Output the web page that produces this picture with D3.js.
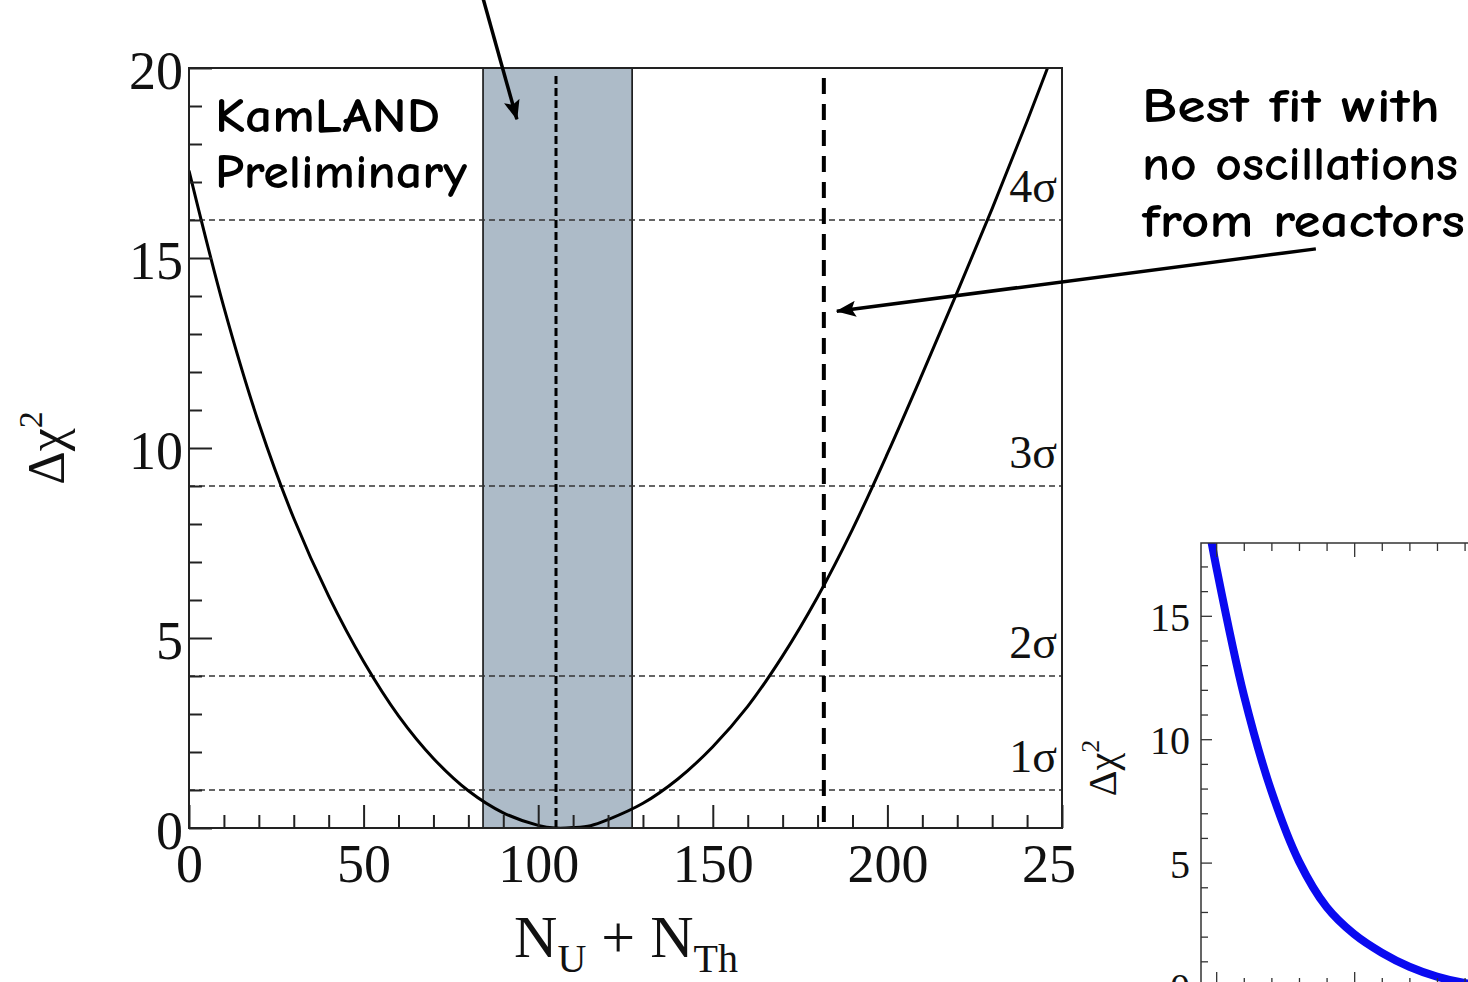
<!DOCTYPE html>
<html>
<head>
<meta charset="utf-8">
<script src="https://cdn.jsdelivr.net/npm/d3@7"></script>
<style>
  html, body { margin: 0; padding: 0; background: #fff; }
  svg { display: block; }
</style>
</head>
<body>
<svg id="chart" width="1468" height="982"></svg>
<script>
// Δχ² profile as a function of the geoneutrino event count N_U + N_Th
const nEvents   = [0, 10, 20, 30, 40, 50, 60, 70, 80, 90, 100, 105, 110, 115, 120, 130, 140, 150, 160, 170, 180, 190, 200, 210, 220, 230, 240, 250];
const deltaChi2 = [17.3, 13.7, 10.65, 8.15, 6.1, 4.38, 2.95, 1.83, 0.98, 0.40, 0.07, 0.0, 0.01, 0.06, 0.22, 0.65, 1.29, 2.14, 3.2, 4.53, 6.08, 7.86, 9.85, 11.95, 14.1, 16.3, 18.6, 21.0];

// confidence levels drawn as horizontal guides
const sigmaLevels = [1, 4, 9, 16];
const sigmaLabels = ["1σ", "2σ", "3σ", "4σ"];

// 1σ range of the fit, its central value, and the no-oscillation fit
const fitBand   = [84.2, 126.9];
const bestFit   = 105.1;
const noOscFit  = 181.8;

// axis ticks
const xMajorTicks  = [0, 50, 100, 150, 200, 250];
const xTickLabels  = ["0", "50", "100", "150", "200", "250"];
const xMinorTicks  = [10, 20, 30, 40, 60, 70, 80, 90, 110, 120, 130, 140, 160, 170, 180, 190, 210, 220, 230, 240];
const yMajorTicks  = [0, 5, 10, 15, 20];
const yTickLabels  = ["0", "5", "10", "15", "20"];
const yMinorTicks  = [1, 2, 3, 4, 6, 7, 8, 9, 11, 12, 13, 14, 16, 17, 18, 19];

// second panel (partially shown): Δχ² curve
const insetX    = [-0.3, 0, 1, 2, 3, 4, 5, 6, 7, 8, 9, 10];
const insetChi2 = [18.8, 17.0, 11.8, 7.9, 5.05, 3.2, 2.1, 1.35, 0.78, 0.38, 0.12, 0.02];
const insetYMajor  = [0, 5, 10, 15];
const insetYLabels = ["0", "5", "10", "15"];
const insetYMinor  = [1, 2, 3, 4, 6, 7, 8, 9, 11, 12, 13, 14, 16, 17];
const insetXMajor  = [0, 5, 10];
const insetXMinor  = [1, 2, 3, 4, 6, 7, 8, 9];

const SERIF = "'Liberation Serif', 'Times New Roman', serif";
const HAND  = "'Comic Sans MS', 'Comic Neue', Lato, sans-serif";

const svg = d3.select("#chart");

const plot = { left: 189, top: 68, right: 1062, bottom: 828 };
const x = d3.scaleLinear().domain([0, 250]).range([plot.left, plot.right]);
const y = d3.scaleLinear().domain([0, 20]).range([plot.bottom, plot.top]);

const defs = svg.append("defs");
defs.append("clipPath").attr("id", "plotClip")
  .append("rect")
  .attr("x", plot.left).attr("y", plot.top)
  .attr("width", plot.right - plot.left).attr("height", plot.bottom - plot.top);

defs.append("marker")
  .attr("id", "arrowHead")
  .attr("markerUnits", "userSpaceOnUse")
  .attr("viewBox", "0 0 20 16")
  .attr("markerWidth", 20).attr("markerHeight", 16)
  .attr("refX", 19).attr("refY", 8)
  .attr("orient", "auto")
  .append("path")
  .attr("d", "M0,0 L20,8 L0,16 L4,8 Z")
  .attr("fill", "#000");

// fit band
svg.append("rect")
  .attr("x", x(fitBand[0])).attr("y", plot.top)
  .attr("width", x(fitBand[1]) - x(fitBand[0]))
  .attr("height", plot.bottom - plot.top)
  .attr("fill", "#adbbc8");
svg.selectAll("line.bandEdge").data(fitBand).join("line")
  .attr("class", "bandEdge")
  .attr("x1", d => x(d)).attr("x2", d => x(d))
  .attr("y1", plot.top).attr("y2", plot.bottom)
  .attr("stroke", "#111").attr("stroke-width", 1.6);

// σ guides
svg.selectAll("line.sigma").data(sigmaLevels).join("line")
  .attr("class", "sigma")
  .attr("x1", plot.left).attr("x2", plot.right)
  .attr("y1", d => y(d)).attr("y2", d => y(d))
  .attr("stroke", "#333").attr("stroke-width", 1.3)
  .attr("stroke-dasharray", "6,4");

svg.selectAll("text.sigmaLabel").data(sigmaLevels).join("text")
  .attr("class", "sigmaLabel")
  .attr("x", plot.right - 5)
  .attr("y", d => y(d) - 18)
  .attr("text-anchor", "end")
  .attr("font-family", SERIF).attr("font-size", 46).attr("fill", "#111")
  .text((d, i) => sigmaLabels[i]);

// best-fit and no-oscillation markers
svg.append("line")
  .attr("x1", x(bestFit)).attr("x2", x(bestFit))
  .attr("y1", plot.top + 8).attr("y2", plot.bottom)
  .attr("stroke", "#000").attr("stroke-width", 3)
  .attr("stroke-dasharray", "8,4");
svg.append("line")
  .attr("x1", x(noOscFit)).attr("x2", x(noOscFit))
  .attr("y1", plot.top + 10).attr("y2", plot.bottom - 4)
  .attr("stroke", "#000").attr("stroke-width", 4)
  .attr("stroke-dasharray", "16,10");

// Δχ² curve
const line = d3.line()
  .x((d, i) => x(nEvents[i]))
  .y(d => y(d))
  .curve(d3.curveCatmullRom.alpha(0.5));
svg.append("path")
  .datum(deltaChi2)
  .attr("clip-path", "url(#plotClip)")
  .attr("d", line)
  .attr("fill", "none")
  .attr("stroke", "#000")
  .attr("stroke-width", 3);

// frame
svg.append("rect")
  .attr("x", plot.left).attr("y", plot.top)
  .attr("width", plot.right - plot.left).attr("height", plot.bottom - plot.top)
  .attr("fill", "none").attr("stroke", "#222").attr("stroke-width", 2);

// axes (ticks point into the plot)
function styleAxis(g) {
  g.select(".domain").remove();
  g.selectAll(".tick line").attr("stroke", "#222").attr("stroke-width", 2);
  g.selectAll(".tick text").attr("font-family", SERIF).attr("font-size", 54).attr("fill", "#111");
}
svg.append("g").attr("transform", `translate(0,${plot.bottom})`)
  .call(d3.axisBottom(x).tickValues(xMinorTicks).tickSize(-13).tickFormat(""))
  .call(styleAxis);
svg.append("g").attr("transform", `translate(0,${plot.bottom})`)
  .call(d3.axisBottom(x).tickValues(xMajorTicks).tickSize(-23).tickPadding(16)
        .tickFormat((d, i) => xTickLabels[i]))
  .call(styleAxis);
svg.append("g").attr("transform", `translate(${plot.left},0)`)
  .call(d3.axisLeft(y).tickValues(yMinorTicks).tickSize(-13).tickFormat(""))
  .call(styleAxis);
svg.append("g").attr("transform", `translate(${plot.left},0)`)
  .call(d3.axisLeft(y).tickValues(yMajorTicks).tickSize(-23).tickPadding(6)
        .tickFormat((d, i) => yTickLabels[i]))
  .call(styleAxis)
  .selectAll(".tick text").attr("dy", "0.38em");

// axis titles
const xTitle = svg.append("text")
  .attr("x", 626).attr("y", 957)
  .attr("text-anchor", "middle")
  .attr("font-family", SERIF).attr("font-size", 60).attr("fill", "#111");
xTitle.append("tspan").text("N");
xTitle.append("tspan").attr("dy", 15).attr("font-size", 40).text("U");
xTitle.append("tspan").attr("dy", -15).text(" + N");
xTitle.append("tspan").attr("dy", 15).attr("font-size", 40).text("Th");

const yTitle = svg.append("text")
  .attr("transform", "translate(64,448) rotate(-90)")
  .attr("text-anchor", "middle")
  .attr("font-family", SERIF).attr("font-size", 52).attr("fill", "#111");
yTitle.append("tspan").text("Δχ");
yTitle.append("tspan").attr("dy", -22).attr("font-size", 34).text("2");

// plot annotations
const hand = (tx, ty, len, str) => svg.append("text")
  .attr("x", tx).attr("y", ty)
  .attr("font-family", HAND).attr("font-weight", "bold").attr("font-size", 48)
  .attr("fill", "#000")
  .attr("textLength", len).attr("lengthAdjust", "spacingAndGlyphs")
  .text(str);
hand(215, 132, 225, "KamLAND");
hand(215, 188, 252, "Preliminary");
hand(1142, 122, 298, "Best fit with");
hand(1142, 180, 316, "no oscillations");
hand(1142, 237, 323, "from reactors");

// arrow pointing at the fit band
svg.append("line")
  .attr("x1", x(84.0)).attr("y1", y(21.9))
  .attr("x2", x(93.9)).attr("y2", y(18.65))
  .attr("stroke", "#000").attr("stroke-width", 3.5)
  .attr("marker-end", "url(#arrowHead)");
// arrow pointing at the no-oscillation fit
svg.append("line")
  .attr("x1", x(322.7)).attr("y1", y(15.24))
  .attr("x2", x(noOscFit) + 13).attr("y2", y(13.6))
  .attr("stroke", "#000").attr("stroke-width", 3.5)
  .attr("marker-end", "url(#arrowHead)");

// ---- second panel, lower right ----
const inset = { left: 1201, top: 543, bottom: 986 };
const ix = d3.scaleLinear().domain([-0.55, 10]).range([inset.left, inset.left + 10.55 * 27.6]);
const iy = d3.scaleLinear().domain([0, 17.95]).range([inset.bottom, inset.top]);
const insetRight = ix(10);

const ig = svg.append("g");
ig.append("rect")
  .attr("x", 1076).attr("y", 520)
  .attr("width", 1468 - 1076).attr("height", 982 - 520)
  .attr("fill", "#fff");

ig.append("clipPath").attr("id", "insetClip")
  .append("rect")
  .attr("x", inset.left).attr("y", inset.top)
  .attr("width", insetRight - inset.left).attr("height", inset.bottom - inset.top);

const iline = d3.line()
  .x((d, i) => ix(insetX[i]))
  .y(d => iy(d))
  .curve(d3.curveCatmullRom.alpha(0.5));
ig.append("path")
  .datum(insetChi2)
  .attr("clip-path", "url(#insetClip)")
  .attr("d", iline)
  .attr("fill", "none")
  .attr("stroke", "#0a0af0")
  .attr("stroke-width", 8);

ig.append("rect")
  .attr("x", inset.left).attr("y", inset.top)
  .attr("width", insetRight - inset.left).attr("height", inset.bottom - inset.top)
  .attr("fill", "none").attr("stroke", "#333").attr("stroke-width", 1.5);

function styleInsetAxis(g) {
  g.select(".domain").remove();
  g.selectAll(".tick line").attr("stroke", "#333").attr("stroke-width", 1.3);
  g.selectAll(".tick text").attr("font-family", SERIF).attr("font-size", 40).attr("fill", "#111");
}
ig.append("g").attr("transform", `translate(${inset.left},0)`)
  .call(d3.axisLeft(iy).tickValues(insetYMinor).tickSize(-7).tickFormat(""))
  .call(styleInsetAxis);
ig.append("g").attr("transform", `translate(${inset.left},0)`)
  .call(d3.axisLeft(iy).tickValues(insetYMajor).tickSize(-11).tickPadding(11)
        .tickFormat((d, i) => insetYLabels[i]))
  .call(styleInsetAxis)
  .selectAll(".tick text").attr("dy", "0.36em");
[inset.top, inset.bottom].forEach(py => {
  const dir = py === inset.top ? d3.axisTop : d3.axisBottom;
  ig.append("g").attr("transform", `translate(0,${py})`)
    .call(dir(ix).tickValues(insetXMinor).tickSize(-8).tickFormat(""))
    .call(styleInsetAxis);
  ig.append("g").attr("transform", `translate(0,${py})`)
    .call(dir(ix).tickValues(insetXMajor).tickSize(-14).tickFormat(""))
    .call(styleInsetAxis);
});

const iTitle = ig.append("text")
  .attr("transform", "translate(1116,768) rotate(-90)")
  .attr("text-anchor", "middle")
  .attr("font-family", SERIF).attr("font-size", 40).attr("fill", "#111");
iTitle.append("tspan").text("Δχ");
iTitle.append("tspan").attr("dy", -17).attr("font-size", 26).text("2");
</script>
</body>
</html>
